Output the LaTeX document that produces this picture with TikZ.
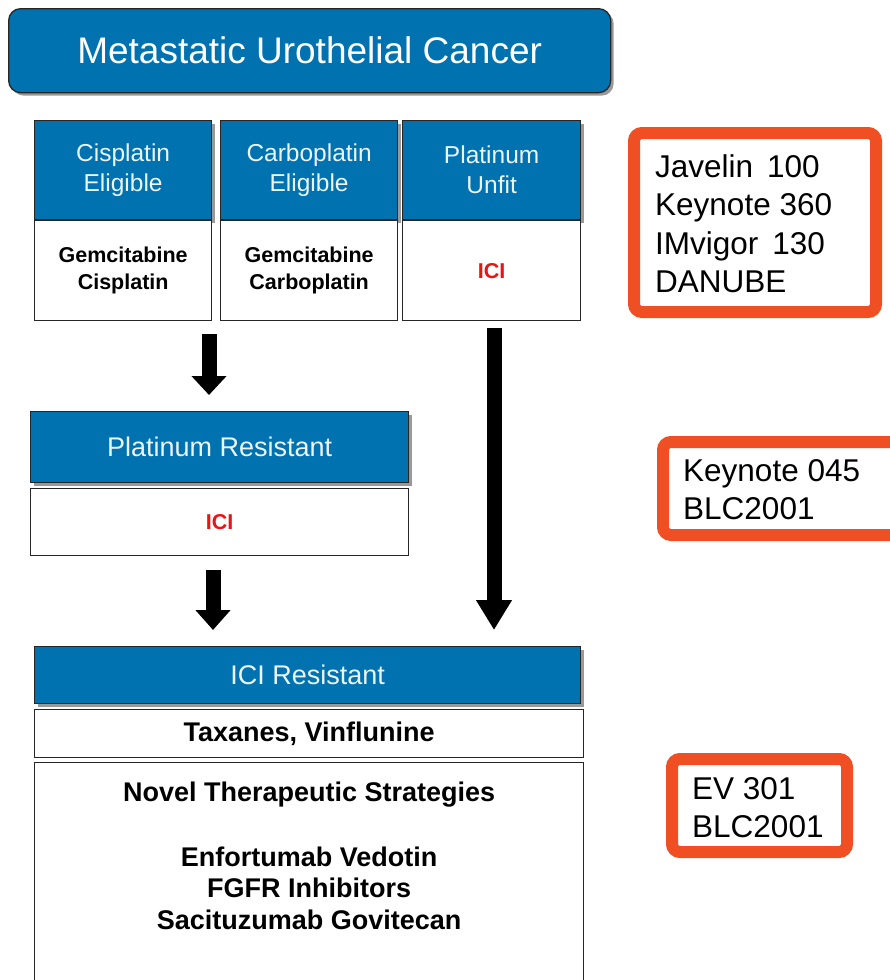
\documentclass[tikz,border=0pt]{standalone}
\usepackage{fontspec}
\setmainfont{Liberation Sans}
\usetikzlibrary{shadows,arrows.meta,calc}
\definecolor{hdrblue}{RGB}{0,114,176}
\definecolor{trialred}{RGB}{240,78,35}
\definecolor{icired}{RGB}{235,20,20}

\begin{document}
\begin{tikzpicture}[x=1pt,y=-1pt,
  shade3/.style={drop shadow={shadow xshift=3pt, shadow yshift=-3pt, opacity=0.4, fill=black}},
  hdr/.style={draw=black!85, line width=1.3pt, fill=hdrblue, text=white!92!hdrblue,
    align=center, inner sep=0pt, anchor=north west, shade3},
  body/.style={draw=black!85, line width=1.3pt, fill=white, align=center,
    inner sep=0pt, anchor=north west},
  colfont/.style={font=\fontsize{24.5}{30}\selectfont},
  widefont/.style={font=\fontsize{27}{30}\selectfont},
  drugfont/.style={font=\bfseries\fontsize{21.5}{27}\selectfont},
  bigdrug/.style={font=\bfseries\fontsize{27}{31.5}\selectfont},
  trialbox/.style={draw=trialred, line width=12pt, rounded corners=8pt, fill=white},
  trialtext/.style={font=\fontsize{31.5}{38.5}\selectfont, align=left, inner sep=0pt, anchor=north west},
  fatarrow/.style={line width=15pt, -{Triangle[width=34pt,length=#1]}},
]
\useasboundingbox (0,0) rectangle (889,980);
\fill[white] (0,0) rectangle (889,980);

% title bar
\node[draw=black!85, line width=1.3pt, fill=hdrblue, text=white, rounded corners=12pt,
  minimum width=602pt, minimum height=84pt, inner sep=0pt, anchor=north west,
  font=\fontsize{37}{40}\selectfont, shade3] (title) at (8,8) {Metastatic Urothelial Cancer};

% first-line columns
\node[hdr, colfont, minimum width=177pt, minimum height=99pt] (c1h) at (34,120) {Cisplatin\\Eligible};
\node[hdr, colfont, minimum width=177pt, minimum height=99pt] (c2h) at (220,120) {Carboplatin\\Eligible};
\node[hdr, colfont, minimum width=178pt, minimum height=99pt] (c3h) at (402,120) {Platinum\\Unfit};
\node[body, drugfont, minimum width=177pt, minimum height=100pt] (c1b) at (34,220) {Gemcitabine\\Cisplatin};
\node[body, drugfont, minimum width=177pt, minimum height=100pt] (c2b) at (220,220) {Gemcitabine\\Carboplatin};
\node[body, drugfont, text=icired, minimum width=178pt, minimum height=100pt] (c3b) at (402,220) {ICI};

% platinum resistant
\node[hdr, widefont, minimum width=378pt, minimum height=71pt] (prh) at (30,411) {Platinum Resistant};
\node[body, drugfont, text=icired, minimum width=378pt, minimum height=67pt] (prb) at (30,488) {ICI};

% ICI resistant
\node[hdr, widefont, minimum width=546pt, minimum height=57pt] (irh) at (34,646) {ICI Resistant};
\node[body, bigdrug, minimum width=549pt, minimum height=48pt] (irb) at (34,709) {Taxanes, Vinflunine};
\node[body, minimum width=549pt, minimum height=240pt] (nov) at (34,762) {};
\node[bigdrug, align=center, anchor=north, inner sep=0pt] (novt) at ($(nov.north)+(0,20)$)
  {Novel Therapeutic Strategies\\[33pt]Enfortumab Vedotin\\FGFR Inhibitors\\Sacituzumab Govitecan};

% arrows between stages
\coordinate (a1s) at (209,334);
\coordinate (a1e) at (209,395);
\coordinate (a2s) at (213,570);
\coordinate (a2e) at (213,630);
\coordinate (a3s) at (494,328);
\coordinate (a3e) at (494,630);
\draw[fatarrow=19pt] (a1s) -- (a1e);
\draw[fatarrow=20pt] (a2s) -- (a2e);
\draw[fatarrow=30pt] (a3s) -- (a3e);

% trial boxes
\draw[trialbox] (634,133) rectangle (876,312);
\node[trialtext] (t1) at (655,154) {Javelin\,\ 100\\Keynote 360\\IMvigor\,\ 130\\DANUBE};

\draw[trialbox] (663,442) rectangle (900,535);
\node[trialtext] (t2) at (683,459) {Keynote 045\\BLC2001};

\draw[trialbox] (672,759) rectangle (847,852);
\node[trialtext] (t3) at (692,777) {EV 301\\BLC2001};
\end{tikzpicture}
\end{document}
